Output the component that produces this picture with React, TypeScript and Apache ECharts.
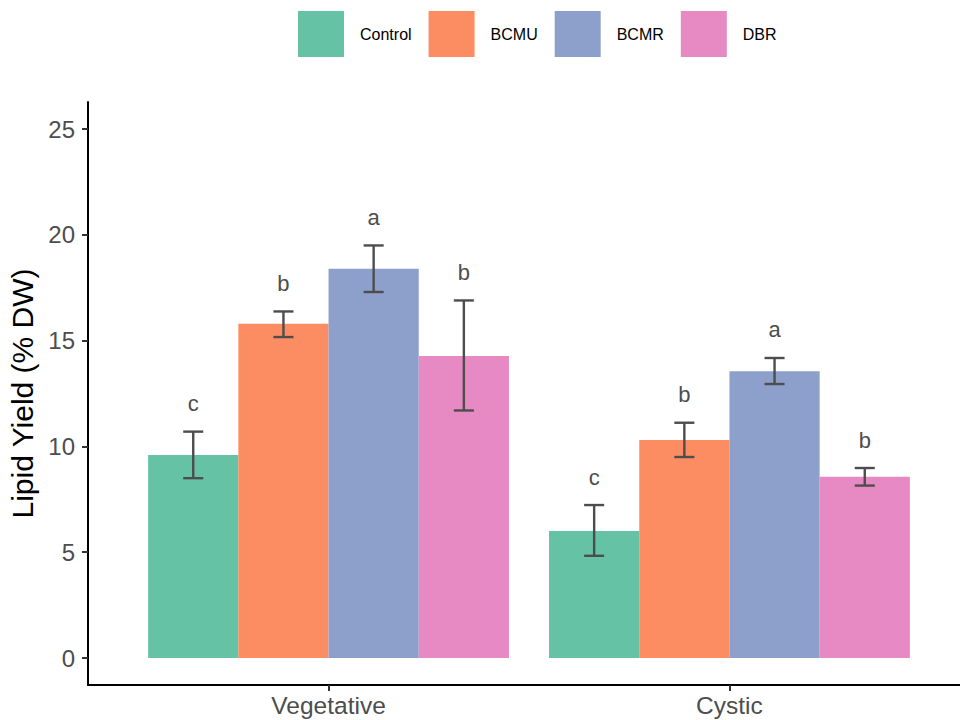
import React, { useEffect, useRef } from "react";
import * as echarts from "echarts";

const categories = ["Vegetative", "Cystic"];
const groups = ["Control", "BCMU", "BCMR", "DBR"];
const colors = ["#66C2A5", "#FC8D62", "#8DA0CB", "#E78AC3"];
// per group: [Vegetative, Cystic]
const means = [
  [9.6, 6.0],
  [15.8, 10.3],
  [18.4, 13.55],
  [14.27, 8.57],
];
const lowers = [
  [8.5, 4.83],
  [15.17, 9.5],
  [17.3, 12.95],
  [11.7, 8.15],
];
const uppers = [
  [10.7, 7.23],
  [16.38, 11.12],
  [19.5, 14.18],
  [16.9, 8.98],
];
const letters = [
  ["c", "c"],
  ["b", "b"],
  ["a", "a"],
  ["b", "b"],
];
const yTicks = [0, 5, 10, 15, 20, 25];

const FONT = "Liberation Sans, Arial, sans-serif";
const dodge = 0.9;
const barW = dodge / groups.length;
const capHalf = 0.025;

export default function App() {
  const ref = useRef<HTMLDivElement>(null);
  useEffect(() => {
    if (!ref.current) return;
    const chart = echarts.init(ref.current, undefined, { renderer: "svg" });
    const series = groups.map((g, gi) => ({
      type: "custom",
      name: g,
      color: colors[gi],
      itemStyle: { color: colors[gi] },
      clip: false,
      data: categories.map((_, ci) => [
        ci + 1,
        means[gi][ci],
        lowers[gi][ci],
        uppers[gi][ci],
      ]),
      renderItem: (params: any, api: any) => {
        const cat = api.value(0);
        const mean = api.value(1);
        const lo = api.value(2);
        const hi = api.value(3);
        const letter = letters[gi][params.dataIndex];
        const x = cat - dodge / 2 + barW * (gi + 0.5);
        const p0 = api.coord([x - barW / 2, mean]);
        const p1 = api.coord([x + barW / 2, 0]);
        const pLo = api.coord([x, lo]);
        const pHi = api.coord([x, hi]);
        const capW = api.size([capHalf, 0])[0];
        const ec = "#4D4D4D";
        return {
          type: "group",
          children: [
            {
              type: "rect",
              shape: { x: p0[0], y: p0[1], width: p1[0] - p0[0], height: p1[1] - p0[1] },
              style: { fill: colors[gi] },
            },
            {
              type: "line",
              shape: { x1: pLo[0], y1: pLo[1], x2: pHi[0], y2: pHi[1] },
              style: { stroke: ec, lineWidth: 2.4 },
            },
            {
              type: "line",
              shape: { x1: pLo[0] - capW, y1: pLo[1], x2: pLo[0] + capW, y2: pLo[1] },
              style: { stroke: ec, lineWidth: 2.4 },
            },
            {
              type: "line",
              shape: { x1: pHi[0] - capW, y1: pHi[1], x2: pHi[0] + capW, y2: pHi[1] },
              style: { stroke: ec, lineWidth: 2.4 },
            },
            {
              type: "text",
              style: {
                text: letter,
                x: pHi[0],
                y: pHi[1] - 28,
                align: "center",
                verticalAlign: "middle",
                fill: "#4D4D4D",
                font: `22px ${FONT}`,
              },
            },
          ],
        };
      },
    }));

    chart.setOption({
      animation: false,
      backgroundColor: "#ffffff",
      textStyle: { fontFamily: FONT },
      legend: {
        data: groups,
        left: 298,
        top: 11,
        padding: 0,
        icon: "rect",
        itemWidth: 46,
        itemHeight: 46,
        itemGap: 17,
        textStyle: { fontSize: 16, color: "#000", fontFamily: FONT, padding: [0, 0, 0, 11] },
      },
      grid: {
        left: 88,
        top: 102,
        width: 882,
        bottom: 35,
        containLabel: false,
        outerBoundsMode: "none",
      },
      xAxis: {
        type: "value",
        min: 0.4,
        max: 2.6,
        splitLine: { show: false },
        axisLine: { show: true, onZero: false, lineStyle: { color: "#000", width: 2 } },
        axisTick: { show: true, customValues: [1, 2], length: 6, lineStyle: { color: "#333", width: 2 } },
        axisLabel: {
          customValues: [1, 2],
          formatter: (v: number) => categories[Math.round(v) - 1] ?? "",
          fontSize: 24.5,
          color: "#4D4D4D",
          margin: 8,
          fontFamily: FONT,
        },
      },
      yAxis: {
        type: "value",
        min: -1.276,
        max: 26.28,
        name: "Lipid Yield (% DW)",
        nameLocation: "middle",
        nameGap: 50,
        nameTextStyle: { fontSize: 30, color: "#000", fontFamily: FONT },
        splitLine: { show: false },
        axisLine: { show: true, onZero: false, lineStyle: { color: "#000", width: 2 } },
        axisTick: { show: true, customValues: yTicks, length: 6, lineStyle: { color: "#333", width: 2 } },
        axisLabel: {
          customValues: yTicks,
          fontSize: 24,
          color: "#4D4D4D",
          margin: 13,
          fontFamily: FONT,
        },
      },
      series,
    });
    return () => chart.dispose();
  }, []);
  return (
    <div
      ref={ref}
      style={{ position: "fixed", left: 0, top: 0, width: 960, height: 720, background: "#fff" }}
    />
  );
}
